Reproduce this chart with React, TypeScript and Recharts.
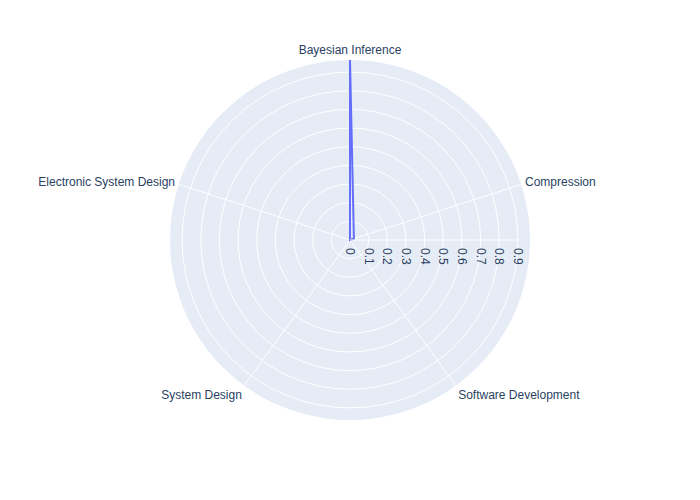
import React from 'react';
import {
  RadarChart,
  Radar,
  PolarGrid,
  PolarAngleAxis,
  PolarRadiusAxis,
  PieChart,
  Pie,
  Cell,
} from 'recharts';

const categories = [
  'Bayesian Inference',
  'Compression',
  'Software Development',
  'System Design',
  'Electronic System Design',
];
const values = [0.965, 0.022, 0, 0, 0];
const radialTicks = [0, 0.1, 0.2, 0.3, 0.4, 0.5, 0.6, 0.7, 0.8, 0.9];
const radialMax = 0.965;
const backgroundSlices = [{ name: 'bg', value: 1 }];

const data = categories.map((c, i) => ({ category: c, value: values[i] }));

const W = 700;
const H = 500;
const CX = 350;
const CY = 240;
const R = 180;
const TEXT = '#2a3f5f';
const FONT = '"Liberation Sans", Arial, sans-serif';
const NO_MARGIN = { top: 0, right: 0, bottom: 0, left: 0 };

// minimal linear scale (no "nice" rounding of the domain)
function makeLinearScale(d: number[] = [0, 1], r: number[] = [0, 1]): any {
  let dom = d.slice();
  let rng = r.slice();
  const s: any = (v: number) => {
    const span = dom[1] - dom[0] || 1;
    return rng[0] + ((v - dom[0]) / span) * (rng[1] - rng[0]);
  };
  s.domain = (x?: number[]) => {
    if (x === undefined) return dom.slice();
    dom = [Number(x[0]), Number(x[x.length - 1])];
    return s;
  };
  s.range = (x?: number[]) => {
    if (x === undefined) return rng.slice();
    rng = [Number(x[0]), Number(x[x.length - 1])];
    return s;
  };
  s.copy = () => makeLinearScale(dom, rng);
  s.ticks = () => radialTicks.slice();
  s.nice = () => s;
  s.clamp = () => s;
  return s;
}

const radialScale = makeLinearScale([0, radialMax]);

const RadiusTick = (props: any) => {
  const { x, y, payload } = props;
  return (
    <text
      x={x}
      y={y}
      dx={8}
      transform={`rotate(90 ${x} ${y})`}
      textAnchor="start"
      dominantBaseline="central"
      fill={TEXT}
      fontSize={12}
      fontFamily={FONT}
    >
      {String(payload.value)}
    </text>
  );
};

const AngleTick = (props: any) => {
  const { x, y, payload, cx, cy, radius } = props;
  const a = (payload.coordinate * Math.PI) / 180;
  const cos = Math.cos(a);
  const sin = Math.sin(a);
  let px: number;
  let py: number;
  if (typeof cx === 'number' && typeof cy === 'number' && typeof radius === 'number') {
    px = cx + (radius + 4) * cos;
    py = cy - (radius + 4) * sin;
  } else {
    px = x - 4 * cos;
    py = y + 4 * sin;
  }
  const anchor = cos > 0.3 ? 'start' : cos < -0.3 ? 'end' : 'middle';
  const vy = Math.abs(sin) > 0.5 ? -Math.sign(sin) * 6 : -sin * 4;
  return (
    <text
      x={px}
      y={py + vy}
      textAnchor={anchor}
      dominantBaseline="central"
      fill={TEXT}
      fontSize={12}
      fontFamily={FONT}
    >
      {payload.value}
    </text>
  );
};

export default function App() {
  return (
    <div style={{ position: 'absolute', left: 0, top: 0, width: W, height: H, background: '#fff' }}>
      <div style={{ position: 'absolute', left: 0, top: 0 }}>
        <PieChart width={W} height={H} margin={NO_MARGIN}>
          <Pie
            data={backgroundSlices}
            dataKey="value"
            cx={CX}
            cy={CY}
            innerRadius={0}
            outerRadius={R}
            startAngle={0}
            endAngle={360}
            stroke="none"
            isAnimationActive={false}
          >
            {backgroundSlices.map((s) => (
              <Cell key={s.name} fill="#E5ECF6" />
            ))}
          </Pie>
        </PieChart>
      </div>
      <div style={{ position: 'absolute', left: 0, top: 0 }}>
        <RadarChart
          width={W}
          height={H}
          data={data}
          cx={CX}
          cy={CY}
          outerRadius={R}
          startAngle={90}
          endAngle={-270}
          margin={NO_MARGIN}
        >
          <PolarGrid gridType="circle" stroke="#ffffff" strokeWidth={1} />
          <PolarAngleAxis
            dataKey="category"
            axisLine={false}
            tickLine={false}
            tick={<AngleTick />}
          />
          <PolarRadiusAxis
            angle={0}
            type="number"
            domain={[0, radialMax]}
            scale={radialScale}
            ticks={radialTicks}
            allowDataOverflow
            axisLine={{ stroke: '#ffffff', strokeWidth: 1 }}
            tickLine={false}
            tick={<RadiusTick />}
          />
          <Radar
            dataKey="value"
            stroke="#636efa"
            strokeWidth={2}
            fill="none"
            fillOpacity={0}
            dot={false}
            isAnimationActive={false}
          />
        </RadarChart>
      </div>
    </div>
  );
}
